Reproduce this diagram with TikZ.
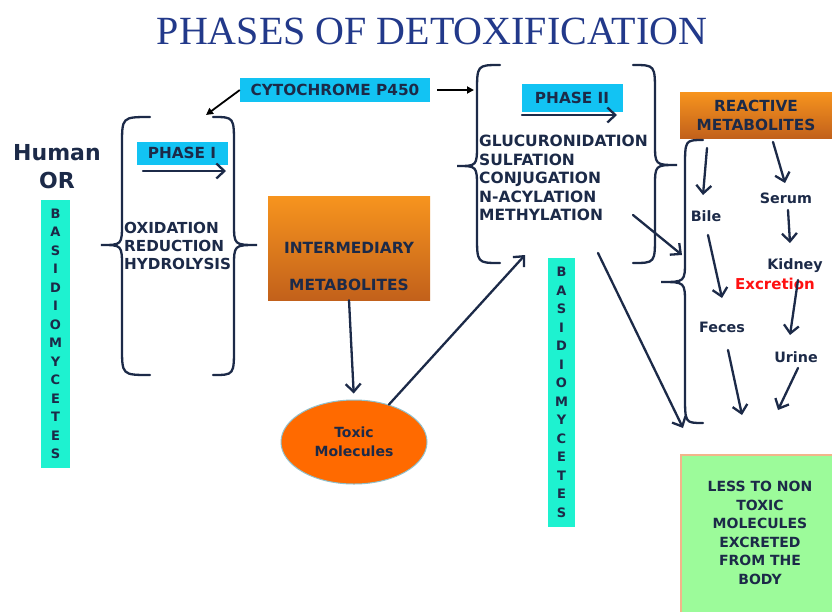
\documentclass[tikz,border=0pt]{standalone}
\usepackage{fontspec}
\setmainfont{DejaVu Sans}
\newfontfamily\titlefont{Liberation Serif}
\usetikzlibrary{arrows.meta,shapes.geometric}
\definecolor{navy}{HTML}{1C2A48}
\definecolor{titleblue}{HTML}{22398A}
\definecolor{cyanfill}{HTML}{12C3F3}
\definecolor{aqua}{HTML}{1EF2D0}
\definecolor{orangetop}{HTML}{F7941E}
\definecolor{orangebot}{HTML}{C2611B}
\definecolor{toxicfill}{HTML}{FF6A00}
\definecolor{toxicline}{HTML}{8FC0CC}
\definecolor{greenfill}{HTML}{9CFB9A}
\definecolor{greenline}{HTML}{F2B58A}
\definecolor{excred}{HTML}{FF1010}
\newcommand\dtxbrace[6]{%
  \draw[bracestyle] (#1,#4) .. controls (#2,#4) .. (#2,#4+28) -- (#2,#5-22)
    .. controls (#2,#5) .. (#3,#5) .. controls (#2,#5) .. (#2,#5+22)
    -- (#2,#6-28) .. controls (#2,#6) .. (#1,#6);}
\begin{document}
\begin{tikzpicture}[x=1pt,y=-1pt,
  txt/.style={font=\bfseries\fontsize{15.5}{18.5}\selectfont, text=navy, inner sep=0pt},
  smalltxt/.style={font=\bfseries\fontsize{14.3}{17}\selectfont, text=navy, inner sep=0pt},
  cyanbox/.style={fill=cyanfill, draw=none, font=\bfseries\fontsize{15.3}{17}\selectfont, text=navy},
  orangebox/.style={draw=none, top color=orangetop, bottom color=orangebot, font=\bfseries\fontsize{15.3}{19}\selectfont, text=navy},
  strip/.style={fill=aqua, draw=none, align=center, font=\bfseries\fontsize{13}{18.5}\selectfont, text=navy, inner sep=0pt},
  bracestyle/.style={draw=navy, line width=2.3pt, line cap=round},
  arr/.style={draw=navy, line width=2.3pt, line cap=round, -{Straight Barb[length=8pt,width=15pt]}},
  blackarr/.style={draw=black, line width=1.8pt, -{Triangle[length=7pt,width=7pt]}},
]
\useasboundingbox (0,0) rectangle (832,611);
\fill[white] (0,0) rectangle (832,611);

% title
\node[font=\titlefont\fontsize{40}{44}\selectfont, text=titleblue, inner sep=0pt] (title) at (432,31) {PHASES OF DETOXIFICATION};

% left side
\node[font=\bfseries\fontsize{22}{26}\selectfont, text=navy, inner sep=0pt] (human) at (57,153) {Human};
\node[font=\bfseries\fontsize{22}{26}\selectfont, text=navy, inner sep=0pt] (or) at (57,180) {OR};
\node[strip, minimum width=29pt, minimum height=268pt] (basL) at (55.5,334) {B\\A\\S\\I\\D\\I\\O\\M\\Y\\C\\E\\T\\E\\S};

% cytochrome
\node[cyanbox, minimum width=190pt, minimum height=24pt] (cyto) at (335,90) {CYTOCHROME P450};
\coordinate (cytoL) at (206,115);
\coordinate (cytoR) at (474,90);
\draw[blackarr] (cyto.west) -- (cytoL);
\draw[blackarr, shorten <=7pt] (cyto.east) -- (cytoR);

% phase I
\dtxbrace{150}{122}{101}{117}{245}{375}
\dtxbrace{213}{234}{257}{117}{245}{375}
\node[cyanbox, minimum width=91pt, minimum height=23pt, inner sep=0pt] (p1) at (182,153) {PHASE I};
\coordinate (p1a) at (143,171);
\coordinate (p1b) at (226,171);
\draw[arr] (p1a) -- (p1b);
\node[txt, align=left, anchor=west, font=\bfseries\fontsize{15.2}{18}\selectfont] (ox) at (124,246) {OXIDATION\\REDUCTION\\HYDROLYSIS};

% intermediary
\node[orangebox, minimum width=162pt, minimum height=104pt] (inter) at (349,248) {};
\node[txt, align=center, font=\bfseries\fontsize{15.4}{37}\selectfont] (intertxt) at (349,266) {INTERMEDIARY\\METABOLITES};

% toxic
\node[ellipse, fill=toxicfill, draw=toxicline, line width=1pt, minimum width=146pt, minimum height=84pt, align=center, font=\bfseries\fontsize{14}{18.5}\selectfont, text=navy] (toxic) at (354,442) {Toxic\\Molecules};
\draw[arr, shorten >=6pt] (inter.south) -- (toxic.north);
\coordinate (p2in) at (525,255);
\draw[arr] (toxic.47) -- (p2in);

% phase II
\dtxbrace{500}{477}{457}{65}{166}{263}
\dtxbrace{633}{655}{677}{65}{165}{263}
\node[cyanbox, minimum width=101pt, minimum height=28pt, inner sep=0pt] (p2) at (572,98) {PHASE II};
\coordinate (p2a) at (522,115);
\coordinate (p2b) at (617,115);
\draw[arr] (p2a) -- (p2b);
\node[txt, align=left, anchor=west] (gluc) at (479,178) {GLUCURONIDATION\\SULFATION\\CONJUGATION\\N-ACYLATION\\METHYLATION};
\node[strip, minimum width=27pt, minimum height=269pt] (basM) at (561.5,392.5) {B\\A\\S\\I\\D\\I\\O\\M\\Y\\C\\E\\T\\E\\S};
\coordinate (methA) at (633,215);
\coordinate (methB) at (682,255);
\draw[arr] (methA) -- (methB);
\coordinate (longA) at (598,253);
\coordinate (longB) at (683,428);
\draw[arr] (longA) -- (longB);

% reactive metabolites
\node[orangebox, minimum width=152pt, minimum height=46pt, align=center, inner sep=0pt] (react) at (756,115) {REACTIVE\\METABOLITES};
\dtxbrace{703}{685}{661}{140}{282}{423}
\node[smalltxt] (bile) at (706,216) {Bile};
\node[smalltxt] (serum) at (786,198) {Serum};
\node[smalltxt] (kidney) at (795,266) {Kidney};
\node[smalltxt, text=excred, font=\bfseries\fontsize{15}{17}\selectfont] (excr) at (775,284) {Excretion};
\node[smalltxt] (feces) at (722,327) {Feces};
\node[smalltxt] (urine) at (796,357) {Urine};
\coordinate (rb1) at (707,148);
\coordinate (rb2) at (703,195);
\draw[arr] (rb1) -- (rb2);
\coordinate (rs1) at (773,142);
\coordinate (rs2) at (785,183);
\draw[arr] (rs1) -- (rs2);
\coordinate (sk1) at (788,210);
\coordinate (sk2) at (790,243);
\draw[arr] (sk1) -- (sk2);
\coordinate (bf1) at (708,235);
\coordinate (bf2) at (722,298);
\draw[arr] (bf1) -- (bf2);
\coordinate (ku1) at (798,280);
\coordinate (ku2) at (790,335);
\draw[arr] (ku1) -- (ku2);
\coordinate (fd1) at (728,350);
\coordinate (fd2) at (742,415);
\draw[arr] (fd1) -- (fd2);
\coordinate (ud1) at (798,368);
\coordinate (ud2) at (778,410);
\draw[arr] (ud1) -- (ud2);

% result box
\node[fill=greenfill, draw=greenline, line width=1.2pt, minimum width=152pt, minimum height=158pt] (less) at (757,534) {};
\node[txt, align=center, font=\bfseries\fontsize{14}{18.5}\selectfont] (lesstxt) at (760,533) {LESS TO NON\\TOXIC\\MOLECULES\\EXCRETED\\FROM THE\\BODY};
\end{tikzpicture}
\end{document}
